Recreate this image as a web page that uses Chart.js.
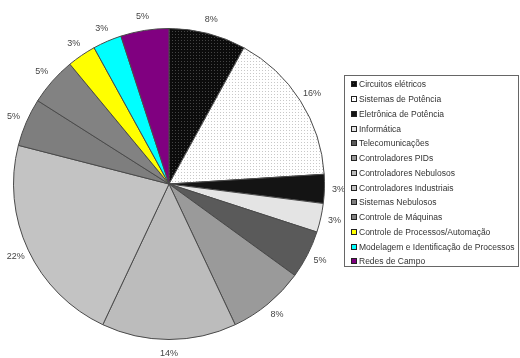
<!DOCTYPE html>
<html>
<head>
<meta charset="utf-8">
<script src="https://cdn.jsdelivr.net/npm/chart.js@4.4.1/dist/chart.umd.min.js"></script>
<style>
  html, body { margin: 0; padding: 0; background: #fff; }
  #wrap { position: relative; width: 520px; height: 358px; }
  #legend {
    position: absolute; left: 344px; top: 75px; width: 175px; height: 192px;
    box-sizing: border-box; border: 1px solid #666; padding: 1px 0 0 6px;
    font: 8.5px "Liberation Sans", Arial, sans-serif; color: #333;
  }
  .item { height: 14.75px; display: flex; align-items: center; white-space: nowrap; }
  .sw { width: 4px; height: 4px; border: 1px solid #222; margin-right: 2px; flex: none; }
</style>
</head>
<body>
<div id="wrap">
  <canvas id="pie" width="520" height="358"></canvas>
  <div id="legend"></div>
</div>
<script>
// Data
const categories = [
  'Circuitos elétricos', 'Sistemas de Potência', 'Eletrônica de Potência', 'Informática',
  'Telecomunicações', 'Controladores PIDs', 'Controladores Nebulosos', 'Controladores Industriais',
  'Sistemas Nebulosos', 'Controle de Máquinas', 'Controle de Processos/Automação',
  'Modelagem e Identificação de Processos', 'Redes de Campo'
];
const shares = [8, 16, 3, 3, 5, 8, 14, 22, 5, 5, 3, 3, 5];
const sliceColors = [
  '#0c0c0c', '#ffffff', '#141414', '#e4e4e4', '#5a5a5a', '#9a9a9a', '#bcbcbc',
  '#c3c3c3', '#7e7e7e', '#828282', '#ffff00', '#00ffff', '#800080'
];

// Excel-like dotted fill for the first two slices
function dotted(base, dot) {
  const c = document.createElement('canvas');
  c.width = 3; c.height = 3;
  const g = c.getContext('2d');
  g.fillStyle = base; g.fillRect(0, 0, 3, 3);
  g.fillStyle = dot; g.fillRect(1, 1, 1, 1);
  return c;
}
const patterns = { 0: dotted('#0c0c0c', '#444444'), 1: dotted('#ffffff', '#c8c8c8') };
const ctx = document.getElementById('pie').getContext('2d');
const fills = sliceColors.map((col, i) =>
  patterns[i] ? ctx.createPattern(patterns[i], 'repeat') : col);

// Legend
const legend = document.getElementById('legend');
categories.forEach((name, i) => {
  const row = document.createElement('div');
  row.className = 'item';
  const sw = document.createElement('span');
  sw.className = 'sw';
  sw.style.background = patterns[i] ? 'url(' + patterns[i].toDataURL() + ')' : sliceColors[i];
  row.appendChild(sw);
  row.appendChild(document.createTextNode(name));
  legend.appendChild(row);
});

// Percent labels outside each slice
const pctLabels = {
  id: 'pctLabels',
  afterDatasetsDraw(chart) {
    const c = chart.ctx;
    const meta = chart.getDatasetMeta(0);
    c.save();
    c.font = '9px "Liberation Sans", Arial, sans-serif';
    c.fillStyle = '#444';
    c.textAlign = 'center';
    c.textBaseline = 'middle';
    meta.data.forEach((arc, i) => {
      const p = arc.getProps(['x', 'y', 'startAngle', 'endAngle', 'outerRadius'], true);
      const a = (p.startAngle + p.endAngle) / 2;
      const r = p.outerRadius + 14;
      c.fillText(shares[i] + '%', p.x + Math.cos(a) * r, p.y + Math.sin(a) * r);
    });
    c.restore();
  }
};

new Chart(ctx, {
  type: 'pie',
  data: {
    labels: categories,
    datasets: [{
      data: shares,
      backgroundColor: fills,
      borderColor: '#4a4a4a',
      borderWidth: 1
    }]
  },
  options: {
    responsive: false,
    animation: false,
    layout: { padding: { left: 13, top: 28, right: 195, bottom: 18 } },
    plugins: {
      legend: { display: false },
      tooltip: { enabled: false }
    }
  },
  plugins: [pctLabels]
});
</script>
</body>
</html>
